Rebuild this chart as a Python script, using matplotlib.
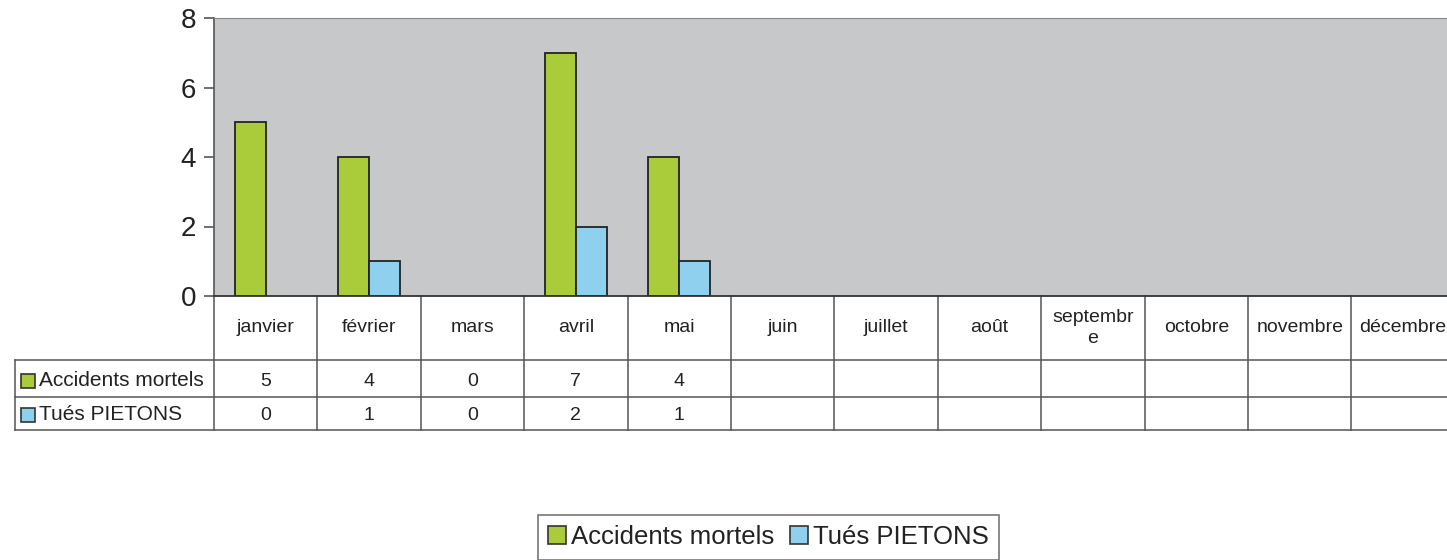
import matplotlib
matplotlib.use("Agg")
import matplotlib.pyplot as plt
from matplotlib.patches import Patch, Rectangle
from matplotlib.transforms import blended_transform_factory
import numpy as np

plt.rcParams['font.family'] = ['Liberation Sans', 'DejaVu Sans']

months = ["janvier", "février", "mars", "avril", "mai", "juin", "juillet",
          "août", "septembr\ne", "octobre", "novembre", "décembre"]
accidents = [5, 4, 0, 7, 4]
pietons = [0, 1, 0, 2, 1]
series_names = ["Accidents mortels", "Tués PIETONS"]
green = "#AACC3A"
blue = "#8FD0EE"

W, H = 1447, 560
fig = plt.figure(figsize=(W / 100, H / 100), dpi=100)
ax = fig.add_axes([214 / W, (H - 296) / H, 1 - 214 / W + 0.01, (296 - 18) / H])
ax.set_facecolor("#C7C8CA")

x_acc = np.arange(len(accidents))
x_pie = np.arange(len(pietons))
bw = 0.3
ax.bar(x_acc - bw / 2, accidents, bw, color=green, edgecolor="#222222",
       linewidth=[1.3 if v > 0 else 0 for v in accidents], zorder=3)
ax.bar(x_pie + bw / 2, pietons, bw, color=blue, edgecolor="#222222",
       linewidth=[1.3 if v > 0 else 0 for v in pietons], zorder=3)

# each category is ~103.4 px wide, starting at px 214
cat_px = 103.4
xmax = -0.5 + (ax.get_position().width * W) / cat_px
ax.set_xlim(-0.5, xmax)
ax.set_ylim(0, 8)
ax.set_yticks([0, 2, 4, 6, 8])
ax.tick_params(axis='y', labelsize=20, length=7, width=1.2, color="#555555", pad=6, labelcolor="#222222")
ax.set_xticks([])
ax.spines["right"].set_visible(False)
ax.spines["top"].set_color("#888888")
ax.spines["left"].set_color("#555555")
ax.spines["left"].set_linewidth(1.2)
ax.spines["bottom"].set_color("#333333")
ax.spines["bottom"].set_linewidth(1.3)
ax.spines["bottom"].set_zorder(4)

# data table under the axes
tr = blended_transform_factory(ax.transData, fig.transFigure)
def fy(px):
    return (H - px) / H

lc = "#555555"
lw = 1.1
y_axis, y_r1, y_r2, y_r3 = 296, 360, 397, 430
xl_px = 15
x_left = ax.transData.inverted().transform((xl_px, 0))[0]
x_right = xmax
for yy in (y_r1, y_r2, y_r3):
    ax.plot([x_left, x_right], [fy(yy), fy(yy)], transform=tr, color=lc, lw=lw, clip_on=False)
ax.plot([x_left, x_left], [fy(y_r1), fy(y_r3)], transform=tr, color=lc, lw=lw, clip_on=False)
for i in range(13):
    xb = i - 0.5
    ax.plot([xb, xb], [fy(y_axis), fy(y_r3)], transform=tr, color=lc, lw=lw, clip_on=False)

for i, m in enumerate(months):
    ax.text(i, fy(328), m, transform=tr, ha="center", va="center", fontsize=14,
            color="#222222", linespacing=1.3)

rows = [accidents, pietons]
row_y = [381, 415]
colors = [green, blue]
for r, (vals, yc) in enumerate(zip(rows, row_y)):
    for i, v in enumerate(vals):
        ax.text(i, fy(yc), str(v), transform=tr, ha="center", va="center", fontsize=14, color="#222222")
    fig.patches.append(Rectangle((21 / W, fy(yc + 7)), 14 / W, 14 / H, transform=fig.transFigure,
                                 facecolor=colors[r], edgecolor="#333333", linewidth=1.2))
    fig.text(39 / W, fy(yc), series_names[r], ha="left", va="center", fontsize=15, color="#222222")

handles = [Patch(facecolor=green, edgecolor="#333333", linewidth=1.2),
           Patch(facecolor=blue, edgecolor="#333333", linewidth=1.2)]
leg = fig.legend(handles, series_names, loc="upper left", bbox_to_anchor=(538 / W, fy(515)),
                 ncol=2, fontsize=18.5, frameon=True, fancybox=False, edgecolor="#555555",
                 handlelength=0.7, handleheight=0.7, handletextpad=0.2, columnspacing=0.6,
                 borderpad=0.4, borderaxespad=0)
leg.get_frame().set_linewidth(1.2)
for t in leg.get_texts():
    t.set_color("#222222")

fig.savefig("out.png", dpi=100)
